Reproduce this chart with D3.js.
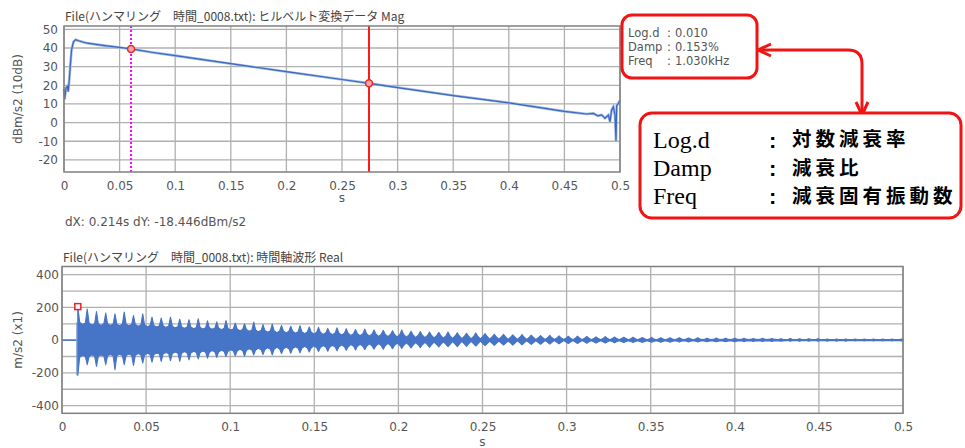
<!DOCTYPE html>
<html lang="ja">
<head>
<meta charset="UTF-8">
<title>ヒルベルト変換データ / 時間軸波形</title>
<script src="https://cdnjs.cloudflare.com/ajax/libs/d3/7.8.5/d3.min.js"></script>
<style>
  body { margin: 0; background: #fff; }
  svg text { font-family: "DejaVu Sans", sans-serif; }
  .tick-lbl { fill: #555; font-size: 12px; }
  .ttl { fill: #444; font-size: 12px; font-family: "Noto Sans CJK JP", sans-serif; }
  .grid { stroke: #b0b0b0; stroke-width: 1.3; }
  .frame { fill: none; stroke: #808080; stroke-width: 1.5; }
</style>
</head>
<body>
<script>

// ---- values ----

// hilbert magnitude (dBm/s2)
var magT = [0, 0.0006, 0.0018, 0.0030, 0.0038, 0.0046, 0.0056, 0.0068, 0.0085, 0.0105, 0.0130,
  0.0200, 0.0300, 0.0400, 0.0500, 0.0603, 0.0800, 0.1000, 0.1500, 0.2000, 0.2500, 0.2743,
  0.3000, 0.3500, 0.4000, 0.4500, 0.4700, 0.4760, 0.4800, 0.4835, 0.4865, 0.4895, 0.4910,
  0.4925, 0.4940, 0.4955, 0.4964, 0.4970, 0.4985, 0.5000];
var magV = [18, 12.5, 18.5, 19.5, 16.6, 22, 30, 39, 43.3, 44.4, 43.9,
  42.7, 41.8, 41.0, 40.3, 39.5, 37.6, 35.9, 31.6, 27.3, 23.1, 21.05,
  18.8, 14.5, 10.6, 6.0, 4.6, 4.9, 3.6, 4.1, 2.3, 4.0, 0.5,
  6.8, 8.5, 4.0, -9.8, 9.0, 10.3, 11.9];

var cursorT = [0.0603, 0.2743];
var cursorV = [39.5, 21.05];
var cursorText = "dX: 0.214s dY: -18.446dBm/s2";

var xTicks = [0, 0.05, 0.1, 0.15, 0.2, 0.25, 0.3, 0.35, 0.4, 0.45, 0.5];
var xTickLabels = ["0", "0.05", "0.1", "0.15", "0.2", "0.25", "0.3", "0.35", "0.4", "0.45", "0.5"];
var magYTicks = [50, 40, 30, 20, 10, 0, -10, -20];
var waveYTicks = [400, 200, 0, -200, -400];
var waveYGrid = [400, 300, 200, 100, 0, -100, -200, -300, -400];

// time waveform (m/s2): flat lead-in, then per beat a spike tip, a body level and a pinch
var leadT = [0, 0.0088];
var leadV = [0, 0];
var blobT = [0.0094, 0.0150, 0.0205, 0.0260, 0.0315, 0.0370, 0.0425, 0.0480, 0.0535, 0.0590,
  0.0645, 0.0700, 0.0755, 0.0810, 0.0865, 0.0920, 0.0975, 0.1030, 0.1085, 0.1140,
  0.1195, 0.1250, 0.1305, 0.1360, 0.1415, 0.1470, 0.1525, 0.1580, 0.1635, 0.1690,
  0.1745, 0.1800, 0.1855, 0.1910, 0.1965, 0.2020, 0.2075, 0.2130, 0.2185, 0.2240,
  0.2295, 0.2350, 0.2405, 0.2460, 0.2515, 0.2570, 0.2625, 0.2680, 0.2735, 0.2790,
  0.2845, 0.2900, 0.2955, 0.3010, 0.3065, 0.3120, 0.3175, 0.3230, 0.3285, 0.3340,
  0.3395, 0.3450, 0.3505, 0.3560, 0.3615, 0.3670, 0.3725, 0.3780, 0.3835, 0.3890,
  0.3945, 0.4000, 0.4055, 0.4110, 0.4165, 0.4220, 0.4275, 0.4330, 0.4385, 0.4440,
  0.4495, 0.4550, 0.4605, 0.4660, 0.4715, 0.4770, 0.4825, 0.4880, 0.4935, 0.4990];
var blobHi = [205, 190, 175, 165, 160, 172, 150, 160, 140, 135,
  140, 128, 125, 130, 118, 112, 120, 105, 100, 110,
  95, 98, 90, 85, 88, 80, 78, 72, 75, 70,
  65, 68, 62, 60, 58, 62, 55, 52, 50, 48,
  50, 45, 42, 44, 40, 36, 35, 32, 34, 30,
  28, 30, 26, 24, 25, 22, 20, 22, 19, 18,
  18, 16, 17, 15, 14, 15, 13, 14, 12, 13,
  12, 11, 12, 10, 11, 10, 9, 10, 8, 9,
  8, 7, 7, 7, 6, 6, 6, 6, 6, 6];
var blobLo = [-215, -150, -160, -150, -180, -150, -155, -140, -135, -130,
  -125, -130, -120, -115, -110, -105, -100, -95, -98, -90,
  -88, -90, -82, -80, -78, -72, -70, -68, -65, -62,
  -60, -58, -55, -56, -52, -50, -48, -46, -44, -42,
  -40, -40, -38, -36, -34, -32, -30, -30, -28, -26,
  -25, -24, -22, -21, -20, -19, -18, -17, -16, -15,
  -15, -14, -13, -13, -12, -12, -11, -11, -10, -10,
  -10, -9, -9, -8, -8, -8, -7, -7, -7, -6,
  -6, -6, -6, -6, -5, -5, -5, -5, -5, -5];
var bandHi = [110, 105, 100, 100, 98, 98, 95, 92, 90, 88,
  85, 82, 80, 78, 76, 74, 72, 68, 65, 62,
  60, 58, 56, 54, 52, 50, 48, 46, 44, 42,
  40, 40, 38, 37, 36, 35, 34, 32, 30, 29,
  28, 27, 26, 25, 24, 22, 21, 20, 19, 18,
  17, 16, 15, 14, 14, 13, 12, 12, 11, 11,
  10, 10, 9, 9, 9, 8, 8, 8, 7, 7,
  7, 7, 6, 6, 6, 6, 5, 5, 5, 5,
  5, 4, 4, 4, 4, 4, 4, 4, 4, 4];
var bandLo = [-105, -100, -98, -96, -95, -94, -92, -90, -88, -85,
  -82, -80, -78, -76, -74, -72, -70, -66, -63, -60,
  -58, -56, -54, -52, -50, -48, -46, -44, -42, -40,
  -38, -37, -36, -35, -34, -33, -32, -30, -29, -28,
  -27, -26, -25, -24, -23, -21, -20, -19, -18, -17,
  -16, -15, -14, -13, -13, -12, -11, -11, -10, -10,
  -9, -9, -8, -8, -8, -7, -7, -7, -6, -6,
  -6, -6, -5, -5, -5, -5, -5, -4, -4, -4,
  -4, -4, -4, -4, -4, -4, -4, -4, -4, -4];
var neckHi = [95, 92, 90, 90, 88, 88, 85, 82, 80, 78,
  75, 72, 70, 68, 66, 64, 62, 58, 55, 52,
  48, 46, 44, 42, 40, 37, 35, 33, 31, 29,
  27, 25, 23, 21, 19, 18, 16, 15, 13, 12,
  10, 9, 8, 7, 6, 6, 5, 5, 5, 4,
  4, 4, 4, 3, 3, 3, 3, 3, 3, 3,
  3, 3, 3, 3, 3, 3, 3, 3, 3, 3,
  3, 3, 3, 3, 3, 3, 3, 3, 3, 3,
  3, 3, 3, 3, 3, 3, 3, 3, 3, 3];
var neckLo = [-92, -90, -90, -88, -86, -85, -82, -80, -78, -75,
  -72, -70, -68, -66, -64, -62, -58, -55, -52, -50,
  -46, -44, -42, -40, -38, -35, -33, -31, -29, -27,
  -25, -23, -21, -19, -18, -16, -15, -13, -12, -11,
  -9, -8, -7, -6, -6, -5, -5, -4, -4, -4,
  -3, -3, -3, -3, -3, -3, -3, -3, -3, -3,
  -3, -3, -3, -3, -3, -3, -3, -3, -3, -3,
  -3, -3, -3, -3, -3, -3, -3, -3, -3, -3,
  -3, -3, -3, -3, -3, -3, -3, -3, -3, -3];
var peakMark = [0.0094, 205];

var dampKeys = ["Log.d", "Damp", "Freq"];
var dampVals = ["0.010", "0.153%", "1.030kHz"];
var dampNames = ["対数減衰率", "減衰比", "減衰固有振動数"];

var blue = "#4674c6";

var svg = d3.select("body").append("svg")
  .attr("width", 965)
  .attr("height", 448);

function panel(box, yDom, yGrid, yTicks, yTitle, title, xTitleY, tickGap) {
  var x = d3.scaleLinear().domain([0, 0.5]).range([box.left, box.right]);
  var y = d3.scaleLinear().domain(yDom).range([box.bottom, box.top]);
  var g = svg.append("g");

  g.selectAll(".gx").data(xTicks).enter().append("line")
    .attr("class", "grid")
    .attr("x1", function(d) { return x(d); }).attr("x2", function(d) { return x(d); })
    .attr("y1", box.top).attr("y2", box.bottom);
  g.selectAll(".gy").data(yGrid).enter().append("line")
    .attr("class", "grid")
    .attr("x1", box.left).attr("x2", box.right)
    .attr("y1", function(d) { return y(d); }).attr("y2", function(d) { return y(d); });

  var xa = g.append("g")
    .attr("transform", "translate(0," + box.bottom + ")")
    .call(d3.axisBottom(x).tickValues(xTicks).tickSize(0).tickPadding(9)
      .tickFormat(function(d, i) { return xTickLabels[i]; }));
  var ya = g.append("g")
    .attr("transform", "translate(" + box.left + ",0)")
    .call(d3.axisLeft(y).tickValues(yTicks).tickSize(0).tickPadding(tickGap)
      .tickFormat(function(d) { return String(d); }));
  [xa, ya].forEach(function(a) {
    a.select(".domain").remove();
    a.selectAll("line").remove();
    a.selectAll("text").attr("class", "tick-lbl").attr("fill", null)
      .style("font-family", "DejaVu Sans").style("font-size", "12px");
  });

  g.append("text").attr("class", "ttl")
    .attr("x", box.left + 1).attr("y", box.top - 5)
    .text(title);
  g.append("text").attr("class", "tick-lbl")
    .attr("transform", "translate(22," + ((box.top + box.bottom) / 2) + ") rotate(-90)")
    .attr("text-anchor", "middle")
    .text(yTitle);
  g.append("text").attr("class", "tick-lbl")
    .attr("x", (box.left + box.right) / 2).attr("y", xTitleY)
    .attr("text-anchor", "middle")
    .text("s");

  return {g: g, x: x, y: y, box: box};
}

// ---- upper: hilbert magnitude ----
var magPanel = panel({left: 64, right: 620, top: 26, bottom: 172}, [-26.5, 51.8],
  magYTicks, magYTicks, "dBm/s2 (10dB)",
  "File(ハンマリング　時間_0008.txt): ヒルベルト変換データ Mag", 202, 6);

var magLine = d3.line()
  .x(function(i) { return magPanel.x(magT[i]); })
  .y(function(i) { return magPanel.y(magV[i]); });
magPanel.g.append("path")
  .attr("d", magLine(d3.range(magT.length)))
  .attr("fill", "none").attr("stroke", "#9cb8e6").attr("stroke-width", 2.6);
magPanel.g.append("path")
  .attr("d", magLine(d3.range(magT.length)))
  .attr("fill", "none").attr("stroke", "#3b68bd").attr("stroke-width", 1.2);

magPanel.g.append("line")
  .attr("x1", magPanel.x(cursorT[0])).attr("x2", magPanel.x(cursorT[0]))
  .attr("y1", magPanel.box.top).attr("y2", magPanel.box.bottom)
  .attr("stroke", "#ff00ff").attr("stroke-width", 2).attr("stroke-dasharray", "2,2");
magPanel.g.append("line")
  .attr("x1", magPanel.x(cursorT[1])).attr("x2", magPanel.x(cursorT[1]))
  .attr("y1", magPanel.box.top).attr("y2", magPanel.box.bottom)
  .attr("stroke", "#ff1a1a").attr("stroke-width", 2);
magPanel.g.selectAll(".cur").data(cursorT).enter().append("circle")
  .attr("cx", function(d) { return magPanel.x(d); })
  .attr("cy", function(d, i) { return magPanel.y(cursorV[i]); })
  .attr("r", 3.5)
  .attr("fill", "#f4a6a6").attr("stroke", "#e8262b").attr("stroke-width", 1.5);

magPanel.g.append("rect").attr("class", "frame")
  .attr("x", magPanel.box.left).attr("y", magPanel.box.top)
  .attr("width", magPanel.box.right - magPanel.box.left)
  .attr("height", magPanel.box.bottom - magPanel.box.top);

svg.append("text").attr("class", "tick-lbl")
  .attr("x", 65).attr("y", 226)
  .text(cursorText);

// ---- lower: time waveform ----
var wavePanel = panel({left: 62, right: 903, top: 266.5, bottom: 413.3}, [-447, 450],
  waveYGrid, waveYTicks, "m/s2 (x1)",
  "File(ハンマリング　時間_0008.txt): 時間軸波形  Real", 446, 3);

// spike is drawn narrow: body level just before and after the tip
var spikeHalf = 0.0011;
var env = [];
blobT.forEach(function(t, i) {
  var next = i < blobT.length - 1 ? blobT[i + 1] : 0.5;
  if (i > 0) env.push({t: t - spikeHalf, hi: bandHi[i], lo: bandLo[i]});
  env.push({t: t, hi: blobHi[i], lo: blobLo[i]});
  env.push({t: t + spikeHalf, hi: bandHi[i], lo: bandLo[i]});
  env.push({t: (t + next) / 2, hi: neckHi[i], lo: neckLo[i]});
});

wavePanel.g.append("path")
  .attr("d", d3.line()
    .x(function(d, i) { return wavePanel.x(leadT[i]); })
    .y(function(d, i) { return wavePanel.y(leadV[i]); })(leadT))
  .attr("fill", "none").attr("stroke", blue).attr("stroke-width", 1.5);
wavePanel.g.append("line")
  .attr("x1", wavePanel.x(leadT[1])).attr("x2", wavePanel.x(leadT[1]))
  .attr("y1", wavePanel.y(blobLo[0])).attr("y2", wavePanel.y(bandHi[0]))
  .attr("stroke", "#7f9fd8").attr("stroke-width", 1.2);

wavePanel.g.append("path")
  .attr("d", d3.area()
    .x(function(d) { return wavePanel.x(d.t); })
    .y0(function(d) { return wavePanel.y(d.lo); })
    .y1(function(d) { return wavePanel.y(d.hi); })(env))
  .attr("fill", blue).attr("stroke", blue).attr("stroke-width", 1.1)
  .attr("stroke-linejoin", "round");

wavePanel.g.append("rect")
  .attr("x", wavePanel.x(peakMark[0]) - 3).attr("y", wavePanel.y(peakMark[1]) - 3)
  .attr("width", 6).attr("height", 6)
  .attr("fill", "#fff").attr("stroke", "#ee2222").attr("stroke-width", 1.5);

wavePanel.g.append("rect").attr("class", "frame")
  .attr("x", wavePanel.box.left).attr("y", wavePanel.box.top)
  .attr("width", wavePanel.box.right - wavePanel.box.left)
  .attr("height", wavePanel.box.bottom - wavePanel.box.top);

// ---- damping readout and legend ----
var red = "#f01414";
svg.append("rect")
  .attr("x", 622).attr("y", 15).attr("width", 135).attr("height", 63).attr("rx", 10)
  .attr("fill", "#fff").attr("stroke", red).attr("stroke-width", 3);
dampKeys.forEach(function(k, i) {
  var row = svg.append("g").attr("transform", "translate(0," + (37 + i * 14) + ")");
  row.append("text").attr("class", "tick-lbl").style("font-size", "11.5px")
    .attr("x", 628).text(k);
  row.append("text").attr("class", "tick-lbl").style("font-size", "11.5px")
    .attr("x", 667).text(":");
  row.append("text").attr("class", "tick-lbl").style("font-size", "11.5px")
    .attr("x", 675).text(dampVals[i]);
});

svg.append("path")
  .attr("d", "M758,50 H848 Q862,50 862,64 V114")
  .attr("fill", "none").attr("stroke", red).attr("stroke-width", 3);
svg.append("path")
  .attr("d", "M771,44 L758,50 L771,56 M856,102 L862,115 L868,102")
  .attr("fill", "none").attr("stroke", red).attr("stroke-width", 3)
  .attr("stroke-linejoin", "round");

svg.append("rect")
  .attr("x", 640).attr("y", 113).attr("width", 321).attr("height", 105).attr("rx", 12)
  .attr("fill", "#fff").attr("stroke", red).attr("stroke-width", 3);
dampKeys.forEach(function(k, i) {
  var yb = 148 + i * 28;
  svg.append("text").attr("x", 653).attr("y", yb)
    .style("font-family", "Liberation Serif").style("font-size", "24px").attr("fill", "#000")
    .text(k);
  svg.append("text").attr("x", 769).attr("y", yb)
    .style("font-family", "Liberation Sans").style("font-weight", "bold")
    .style("font-size", "22px").attr("fill", "#000")
    .text(":");
  svg.append("text").attr("x", 792).attr("y", 146 + i * 28.5)
    .style("font-family", "Noto Sans CJK JP").style("font-weight", "bold")
    .style("font-size", "19.5px").style("letter-spacing", "4px").attr("fill", "#000")
    .text(dampNames[i]);
});

</script>
</body>
</html>
